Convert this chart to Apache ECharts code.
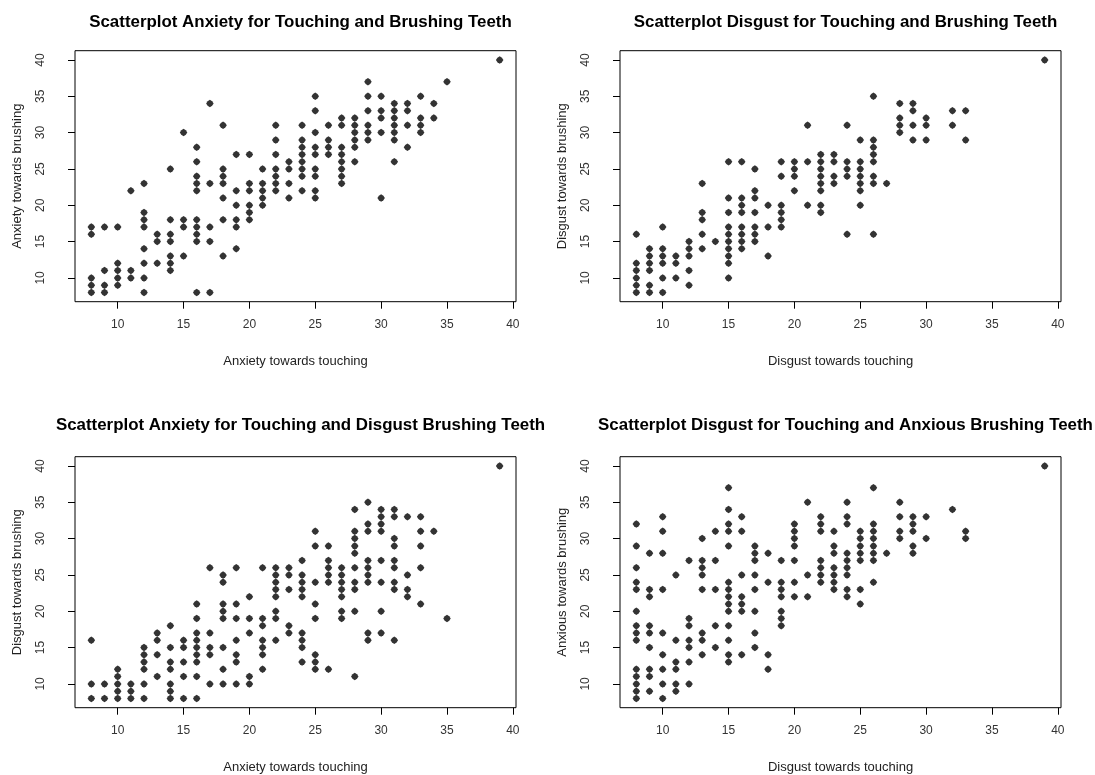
<!DOCTYPE html>
<html>
<head>
<meta charset="utf-8">
<script src="https://cdn.jsdelivr.net/npm/echarts@6/dist/echarts.min.js"></script>
<style>html,body{margin:0;padding:0;background:#fff}#c{width:1095px;height:775px}</style>
</head>
<body>
<div id="c"></div>
<script>
// Each entry: [x value, [y values at that x]]
const anxTouch_anxBrush = [
  [8,[17,16,10,9,8]],[9,[17,11,9,8]],[10,[17,12,11,10,9]],[11,[22,11,10]],
  [12,[23,19,18,17,14,12,10,8]],[13,[16,15,12]],[14,[25,18,16,15,13,12,11]],
  [15,[30,18,17,13]],[16,[28,26,24,23,22,18,17,16,15,8]],[17,[34,23,17,15,8]],
  [18,[31,25,24,23,21,18,13]],[19,[27,22,20,18,17,14]],[20,[27,23,22,20,19,18]],
  [21,[25,23,22,21,20]],[22,[31,29,27,25,24,23,22]],[23,[26,25,23,21]],
  [24,[31,29,28,27,26,25,24,22]],[25,[35,33,30,28,27,25,24,22,21]],
  [26,[31,29,28,27]],[27,[32,31,28,27,26,25,24,23]],[28,[32,31,30,29,28,26]],
  [29,[37,35,33,31,30,29]],[30,[35,33,32,30,21]],[31,[34,33,32,31,30,29,26]],
  [32,[34,33,31,28]],[33,[35,32,31,30]],[34,[34,32]],[35,[37]],[39,[40]]
];
const disTouch_disBrush = [
  [8,[16,12,11,10,9,8]],[9,[14,13,12,11,9,8]],[10,[17,14,13,12,10,8]],[11,[13,12,10]],
  [12,[15,14,13,11,9]],[13,[23,19,18,16,14]],[14,[15]],
  [15,[26,21,19,17,16,15,14,13,12,10]],[16,[26,21,20,19,17,16,15,14]],
  [17,[25,22,21,19,17,16,15]],[18,[20,17,13]],[19,[26,24,20,19,18,17]],
  [20,[26,25,24,22]],[21,[31,26,20]],[22,[27,26,25,24,23,22,20,19]],
  [23,[27,26,24,23]],[24,[31,26,25,24,16]],[25,[29,26,25,24,23,22,20]],
  [26,[35,29,28,27,26,24,23,16]],[27,[23]],[28,[34,32,31,30]],[29,[34,33,31,29]],
  [30,[32,31,29]],[32,[33,31]],[33,[33,29]],[39,[40]]
];
const anxTouch_disBrush = [
  [8,[16,10,8]],[9,[10,8]],[10,[12,11,10,9,8]],[11,[10,9,8]],
  [12,[15,14,13,12,10,8]],[13,[17,16,14,11]],[14,[18,15,13,12,10,9,8]],
  [15,[16,15,13,11,8]],[16,[21,19,17,16,15,14,13,11,8]],[17,[26,17,15,14,10]],
  [18,[25,24,21,20,19,15,12,10]],[19,[26,21,19,16,14,13,10]],[20,[22,19,17,11,10]],
  [21,[26,19,18,16,15,14,12]],[22,[26,25,24,23,22,20,19,16]],[23,[26,25,23,18,17]],
  [24,[27,25,24,23,22,17,16,15,13]],[25,[31,29,24,21,19,14,13,12]],
  [26,[29,27,26,25,24,12]],[27,[26,25,24,23,22,20,19]],
  [28,[34,31,30,29,28,26,24,23,20,11]],[29,[35,32,31,27,26,25,24,17,16]],
  [30,[34,33,32,31,27,24,20,17]],[31,[34,33,30,29,27,26,24,23,16]],
  [32,[33,25,23,22]],[33,[33,31,29,26,21]],[34,[31]],[35,[19]],[39,[40]]
];
const disTouch_anxBrush = [
  [8,[32,29,26,24,23,20,18,17,16,12,11,10,9,8]],[9,[28,23,22,18,17,15,12,11,9]],
  [10,[33,31,28,23,17,14,12,10,8]],[11,[25,16,13,12,10,9]],[12,[27,19,18,16,15,13,10]],
  [13,[30,27,26,25,23,17,16,14]],[14,[31,27,23,18,15]],
  [15,[37,34,32,31,29,24,23,22,21,20,18,16,14,13]],[16,[33,31,25,22,21,20,14]],
  [17,[29,28,27,25,23,20,17,15]],[18,[28,24,14,12]],[19,[27,24,23,22,20,19,18]],
  [20,[32,31,30,29,27,24,22]],[21,[35,25,22]],[22,[33,32,31,27,26,25,24]],
  [23,[31,29,28,26,25,24,23]],[24,[35,33,32,28,27,26,25,23,22]],
  [25,[31,30,29,28,27,23,21]],[26,[37,32,31,30,29,28,27,24]],[27,[28]],
  [28,[35,33,31,30]],[29,[33,32,31,29,28]],[30,[33,30]],[32,[34]],[33,[31,30]],[39,[40]]
];
const tickValues = [10,15,20,25,30,35,40];
const titles = [
  'Scatterplot Anxiety for Touching and Brushing Teeth',
  'Scatterplot Disgust for Touching and Brushing Teeth',
  'Scatterplot Anxiety for Touching and Disgust Brushing Teeth',
  'Scatterplot Disgust for Touching and Anxious Brushing Teeth'
];
const xNames = ['Anxiety towards touching','Disgust towards touching','Anxiety towards touching','Disgust towards touching'];
const yNames = ['Anxiety towards brushing','Disgust towards brushing','Disgust towards brushing','Anxious towards brushing'];
const panels = [anxTouch_anxBrush, disTouch_disBrush, anxTouch_disBrush, disTouch_anxBrush];

function expand(cols){const out=[];cols.forEach(c=>c[1].forEach(y=>out.push([c[0],y])));return out;}

const FONT = 'Liberation Sans, Arial, sans-serif';
const pos = [[75,50.7],[620,50.7],[75,456.7],[620,456.7]];
const titleOffset = [42,42,45,45];
const W = 441, H = 251;
const grids=[],xAxes=[],yAxes=[],series=[],titleOpts=[];
pos.forEach((p,i)=>{
  grids.push({left:p[0],top:p[1],width:W,height:H,show:true,borderColor:'#000',borderWidth:1,backgroundColor:'transparent'});
  titleOpts.push({text:titles[i],left:p[0]+W/2,top:p[1]-titleOffset[i],textAlign:'center',
    textStyle:{fontFamily:FONT,fontSize:16.9,fontWeight:'bold',color:'#000'}});
  xAxes.push({type:'value',gridIndex:i,min:6.76,max:40.24,
    axisLine:{show:false},splitLine:{show:false},
    axisTick:{show:true,length:7,customValues:tickValues,lineStyle:{color:'#000',width:1}},
    axisLabel:{customValues:tickValues,margin:17,fontSize:12,color:'#333',fontFamily:FONT},
    name:xNames[i],nameLocation:'middle',nameGap:53,
    nameTextStyle:{fontSize:13,color:'#222',fontFamily:FONT}});
  yAxes.push({type:'value',gridIndex:i,min:6.72,max:41.28,
    axisLine:{show:false},splitLine:{show:false},
    axisTick:{show:true,length:7,customValues:tickValues,lineStyle:{color:'#000',width:1}},
    axisLabel:{customValues:tickValues,margin:28,rotate:90,fontSize:12,color:'#333',fontFamily:FONT},
    name:yNames[i],nameLocation:'middle',nameGap:51,
    nameTextStyle:{fontSize:13,color:'#222',fontFamily:FONT}});
  series.push({type:'scatter',xAxisIndex:i,yAxisIndex:i,data:expand(panels[i]),
    symbol:'path://M5,0 L8,2 L10,5 L8,8 L5,10 L2,8 L0,5 L2,2 Z',symbolSize:7.5,
    itemStyle:{color:'#000'},silent:true});
});
const chart = echarts.init(document.getElementById('c'),null,{renderer:'canvas'});
chart.setOption({animation:false,backgroundColor:'#fff',title:titleOpts,grid:grids,xAxis:xAxes,yAxis:yAxes,series:series});
</script>
</body>
</html>
